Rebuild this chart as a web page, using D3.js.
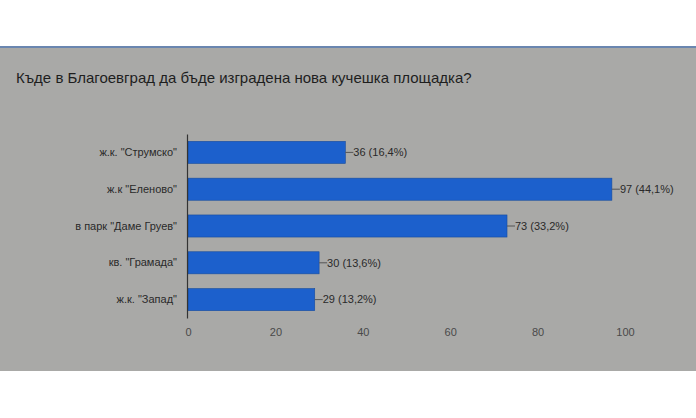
<!DOCTYPE html>
<html><head><meta charset="utf-8">
<script src="https://cdn.jsdelivr.net/npm/d3@7"></script>
<style>html,body{margin:0;padding:0;background:#fff;}svg{display:block;}</style>
</head><body>
<svg id="c" width="696" height="418"></svg>
<script>
const title = "Къде в Благоевград да бъде изградена нова кучешка площадка?";
const categories = ['ж.к. "Струмско"', 'ж.к "Еленово"', 'в парк "Даме Груев"', 'кв. "Грамада"', 'ж.к. "Запад"'];
const values = [36, 97, 73, 30, 29];
const percents = ["16,4%", "44,1%", "33,2%", "13,6%", "13,2%"];
const tickValues = [0, 20, 40, 60, 80, 100];

const svg = d3.select("#c");
const font = "Arial, 'Liberation Sans', sans-serif";

// screen panel
svg.append("rect").attr("x",0).attr("y",47).attr("width",696).attr("height",324).attr("fill","#a9a9a7");
svg.append("rect").attr("x",0).attr("y",46).attr("width",696).attr("height",2).attr("fill","#6a86b0");

svg.append("text").attr("x",16).attr("y",83).attr("font-family",font).attr("font-size",15)
  .attr("fill","#1e1e1e").text(title);

const x = d3.scaleLinear().domain([0,100]).range([188,625]);
const y = d3.scaleBand().domain(categories).range([134,318]).paddingInner(0.4).paddingOuter(0.2);

const g = svg.append("g");
g.selectAll("rect.bar").data(values).join("rect").attr("class","bar")
  .attr("x", x(0)).attr("y",(d,i)=>y(categories[i]))
  .attr("width", d=>x(d)-x(0)).attr("height", y.bandwidth())
  .attr("fill","#1c60cc").attr("stroke","#174c9e").attr("stroke-width",0.6);

// leader lines and value labels
g.selectAll("line.lead").data(values).join("line").attr("class","lead")
  .attr("x1", d=>x(d)).attr("x2", d=>x(d)+8)
  .attr("y1",(d,i)=>y(categories[i])+y.bandwidth()/2)
  .attr("y2",(d,i)=>y(categories[i])+y.bandwidth()/2)
  .attr("stroke","#555").attr("stroke-width",1);
g.selectAll("text.val").data(values).join("text").attr("class","val")
  .attr("x", d=>x(d)+8).attr("y",(d,i)=>y(categories[i])+y.bandwidth()/2)
  .attr("dy","0.35em").attr("font-family",font).attr("font-size",11).attr("fill","#2a2a2a")
  .text((d,i)=>d+" ("+percents[i]+")");

// y axis
const ya = svg.append("g").attr("transform",`translate(${x(0)-1},0)`)
  .call(d3.axisLeft(y).tickSize(0).tickPadding(10));
ya.select(".domain").attr("stroke","#333").attr("stroke-width",1.2);
ya.selectAll("text").attr("font-family",font).attr("font-size",11).attr("fill","#2a2a2a");

// x axis labels
const xa = svg.append("g").attr("transform","translate(0,326)")
  .call(d3.axisBottom(x).tickValues(tickValues).tickSize(0).tickPadding(2));
xa.select(".domain").remove();
xa.selectAll("text").attr("font-family",font).attr("font-size",11).attr("fill","#4a4a4a");
</script>
</body></html>
